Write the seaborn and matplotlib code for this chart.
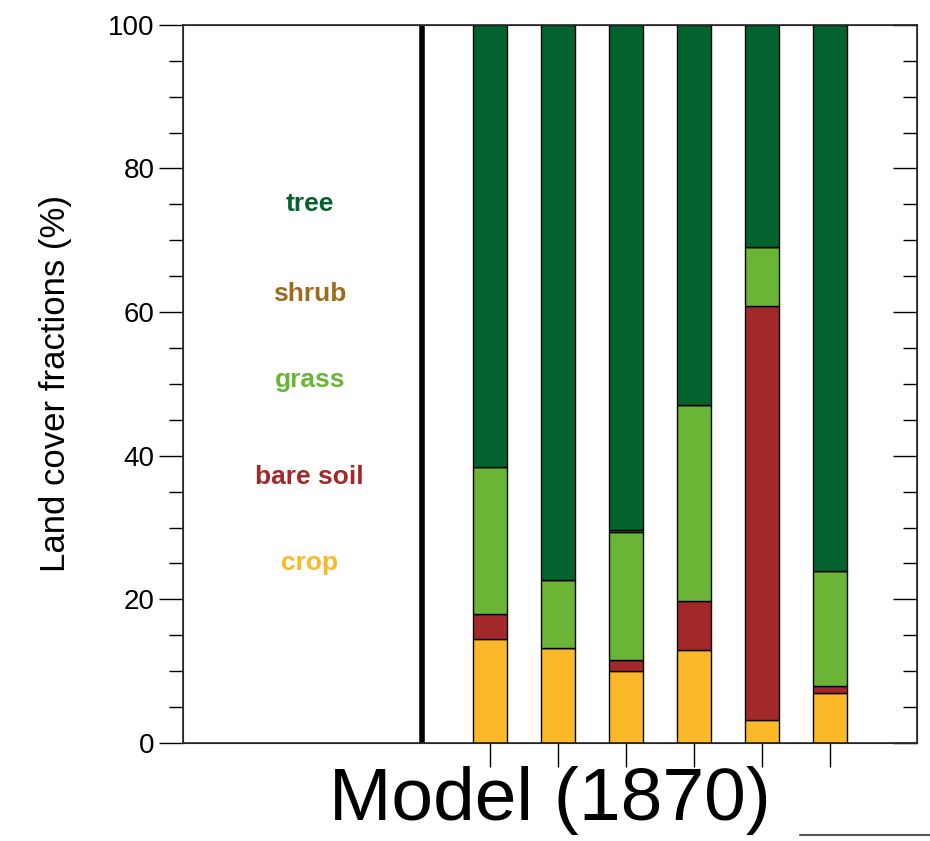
import numpy as np
import matplotlib
matplotlib.use("Agg")
import matplotlib.pyplot as plt
import seaborn as sns
from matplotlib.ticker import MultipleLocator

sns.set_style("ticks")
plt.rcParams["font.family"] = ["Liberation Sans", "DejaVu Sans"]
plt.rcParams["text.color"] = "black"
plt.rcParams["axes.labelcolor"] = "black"
plt.rcParams["xtick.color"] = "black"
plt.rcParams["ytick.color"] = "black"

# land cover fractions (%) per model column, stacked bottom -> top
positions = [1, 2, 3, 4, 5, 6]
crop = [14.5, 13.2, 10.0, 13.0, 3.2, 7.0]
bare_soil = [3.5, 0.0, 1.5, 6.8, 57.6, 1.0]
grass = [20.5, 9.5, 17.9, 27.2, 8.2, 16.0]
shrub = [0.0, 0.0, 0.3, 0.0, 0.0, 0.0]
tree = [61.5, 77.3, 70.3, 53.0, 31.0, 76.0]

layers = [("crop", crop, "#fbb829"), ("bare soil", bare_soil, "#a2282a"),
          ("grass", grass, "#6ab536"), ("shrub", shrub, "#9b6b1e"),
          ("tree", tree, "#04622f")]

fig = plt.figure(figsize=(9.3, 8.41), dpi=100)
ax = fig.add_axes([0.197, 0.1165, 0.789, 0.854])

bottom = np.zeros(len(positions))
for name, vals, col in layers:
    ax.bar(positions, vals, bottom=bottom, width=0.5, color=col,
           edgecolor="black", linewidth=1.0)
    bottom += np.array(vals)

ax.axvline(0, color="black", linewidth=4)

ax.set_xlim(-3.51, 7.28)
ax.set_ylim(0, 100)
ax.set_xticks(positions)
ax.set_xticklabels([])
ax.tick_params(axis="x", length=17, width=1, direction="out")
ax.yaxis.set_major_locator(MultipleLocator(20))
ax.yaxis.set_minor_locator(MultipleLocator(5))
ax.tick_params(axis="y", which="major", length=17, width=1, labelsize=20,
               direction="out")
ax.tick_params(axis="y", which="minor", length=10, width=1, direction="out")
ax.set_ylabel("Land cover fractions (%)", fontsize=25, labelpad=26)
ax.set_xlabel("Model (1870)", fontsize=54, labelpad=-4)
for s in ax.spines.values():
    s.set_linewidth(1.2)

# right-side inward ticks
ax2 = ax.twinx()
ax2.set_ylim(0, 100)
ax2.yaxis.set_major_locator(MultipleLocator(20))
ax2.yaxis.set_minor_locator(MultipleLocator(5))
ax2.tick_params(axis="y", which="major", length=17, width=1, direction="in", labelright=False)
ax2.tick_params(axis="y", which="minor", length=10, width=1, direction="in")
ax2.grid(False)

legend_y = [75, 62.5, 50.5, 37, 25]
legend_lbl = ["tree", "shrub", "grass", "bare soil", "crop"]
legend_col = ["#04622f", "#9b6b1e", "#6ab536", "#a2282a", "#fbb829"]
for y, t, c in zip(legend_y, legend_lbl, legend_col):
    ax.text(-1.65, y, t, color=c, fontsize=19, fontweight="bold",
            ha="center", va="center")

fig.add_artist(plt.Line2D([0.86, 1.0], [0.007, 0.007], color="#555555", linewidth=1.5))

fig.savefig("out.png", dpi=100)
